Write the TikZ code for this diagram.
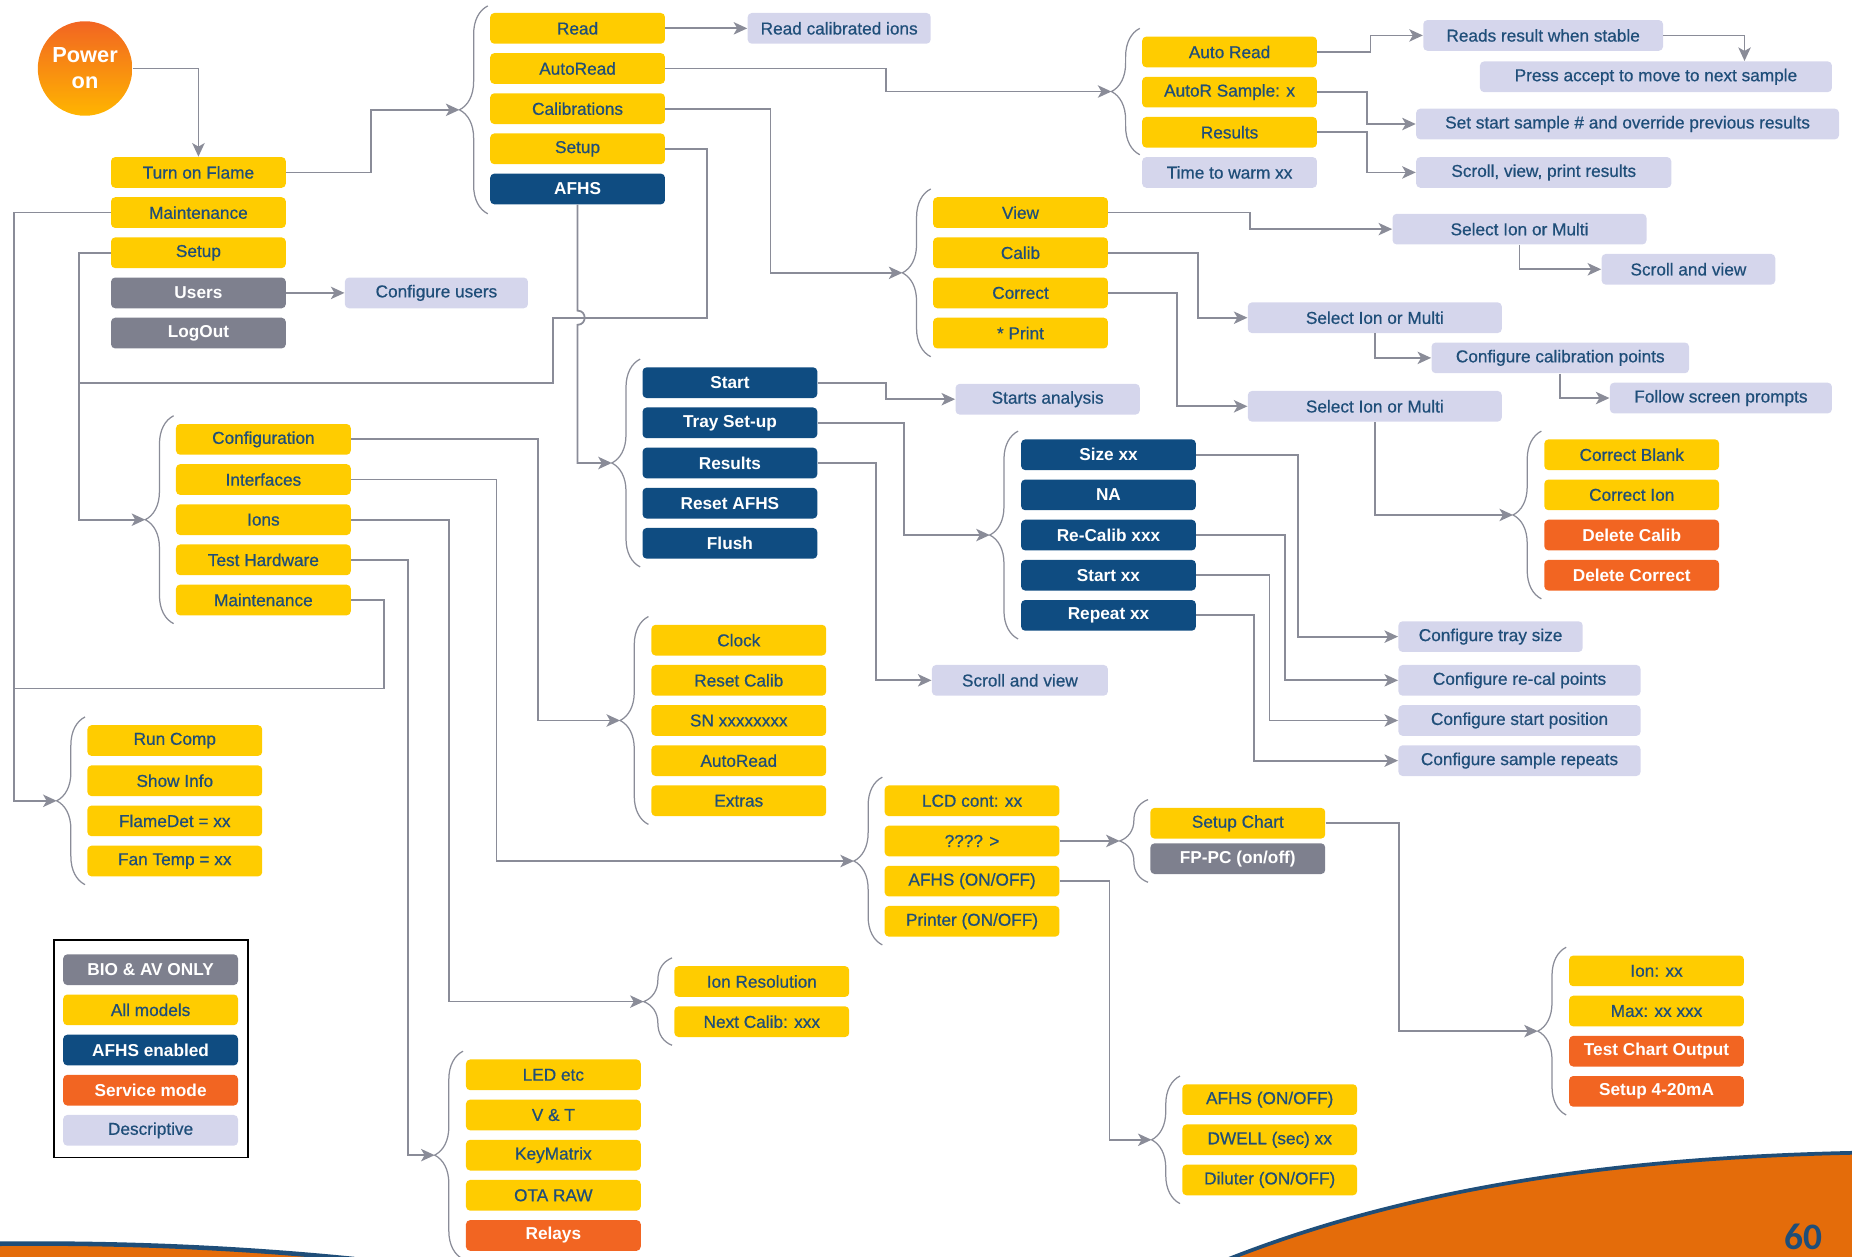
\documentclass[tikz,border=0pt]{standalone}
\usepackage{fontspec}
\setmainfont{Liberation Sans}
\newfontfamily\boxfam{Liberation Sans}[FakeBold=0.6]
\newfontfamily\pagenumfont{Carlito}
\usepackage{xcolor}
\usepackage{tikz}
\usetikzlibrary{arrows.meta,decorations.pathreplacing,calc}

\definecolor{ylw}{HTML}{FFCC00}
\definecolor{dblue}{HTML}{0F4C81}
\definecolor{orng}{HTML}{F26522}
\definecolor{gry}{HTML}{7E808E}
\definecolor{desc}{HTML}{D5D6EC}
\definecolor{txt}{HTML}{1F4E79}
\definecolor{lgray}{HTML}{8A8C98}
\definecolor{botor}{HTML}{E46C0A}
\definecolor{botbl}{HTML}{1F4E79}

\newcommand{\bxfont}{\boxfam\fontsize{8.3}{10}\selectfont}
\newcommand{\bxbold}{\fontsize{8.3}{10}\selectfont\bfseries}

\tikzset{
    bx/.style={rounded corners=0.7mm,minimum width=29.6mm,minimum height=5.2mm,inner sep=0pt,font=\bxfont},
    yb/.style={bx,fill=ylw,text=txt},
    ds/.style={bx,fill=desc,text=txt},
    db/.style={bx,fill=dblue,text=white,font=\bxbold},
    ob/.style={bx,fill=orng,text=white,font=\bxbold},
    gb/.style={bx,fill=gry,text=white,font=\bxbold},
    ln/.style={draw=lgray,line width=0.85pt},
    arr/.style={ln,-{Stealth[length=2.3mm,width=2.1mm,inset=0.6mm]}},
    brc/.style={draw=lgray,line width=0.6pt,decorate,decoration={brace,amplitude=4.8mm}}
}

\begin{document}
\begin{tikzpicture}[x=0.2mm,y=-0.2mm]
    \useasboundingbox (0,0) rectangle (1568,1064);

    % bottom corners
    \begin{scope}
    \clip (0,0) rectangle (1568,1064);
    \fill[botor] (0,1053) .. controls (100,1052) and (200,1056) .. (300,1066) -- (0,1066) -- cycle;
    \draw[botbl,line width=2.2pt] (0,1053) .. controls (100,1052) and (200,1056) .. (300,1066);
    \fill[botor] (1040,1066) .. controls (1200,1003) and (1380,980) .. (1570,976) -- (1570,1066) -- cycle;
    \draw[botbl,line width=1.8pt] (1040,1066) .. controls (1200,1003) and (1380,980) .. (1570,976);
    \end{scope}
    \node[anchor=base,inner sep=0pt,text=txt,font=\pagenumfont\fontsize{18}{19}\selectfont\bfseries] (pg) at (1527,1058) {60};

    \node[circle,minimum size=16mm,inner sep=0pt,top color=orng,bottom color=ylw!70!orange,text=white,align=center,font=\fontsize{10.5}{12.5}\selectfont\bfseries] (pwr) at (72,58) {Power\\on};

    \node[yb] (tof) at (168,146) {Turn on Flame};
    \node[yb] (mnt) at (168,180) {Maintenance};
    \node[yb] (stp) at (168,214) {Setup};
    \node[gb] (usr) at (168,248) {Users};
    \node[gb] (lgo) at (168,282) {LogOut};
    \node[ds,minimum width=31mm] (cfu) at (369.5,248) {Configure users};

    \node[yb] (rd) at (489,24) {Read};
    \node[yb] (ard) at (489,58) {AutoRead};
    \node[yb] (cal) at (489,92) {Calibrations};
    \node[yb] (tst) at (489,126) {Setup};
    \node[db] (afh) at (489,160) {AFHS};
    \node[ds,minimum width=31mm] (rci) at (710.5,24) {Read calibrated ions};

    \node[yb] (aur) at (1041,44) {Auto Read};
    \node[yb] (ars) at (1041,78) {AutoR Sample: x};
    \node[yb] (res) at (1041,112) {Results};
    \node[ds] (ttw) at (1041,146) {Time to warm xx};
    \node[ds,minimum width=40.6mm] (rrs) at (1306.5,30) {Reads result when stable};
    \node[ds,minimum width=59.6mm] (pam) at (1402,65) {Press accept to move to next sample};
    \node[ds,minimum width=71.6mm] (sss) at (1378,105) {Set start sample \# and override previous results};
    \node[ds,minimum width=43.2mm] (svp) at (1307,146) {Scroll, view, print results};

    \node[yb] (vw) at (864,180) {View};
    \node[yb] (clb) at (864,214) {Calib};
    \node[yb] (cor) at (864,248) {Correct};
    \node[yb] (prt) at (864,282) {* Print};
    \node[ds,minimum width=43mm] (sim1) at (1286.5,194) {Select Ion or Multi};
    \node[ds,minimum width=29.4mm] (sav1) at (1429.5,228) {Scroll and view};
    \node[ds,minimum width=43mm] (sim2) at (1164,269) {Select Ion or Multi};
    \node[ds,minimum width=43.6mm] (ccp) at (1321,303) {Configure calibration points};
    \node[ds,minimum width=37.6mm] (fsp) at (1457,337) {Follow screen prompts};
    \node[ds,minimum width=43mm] (sim3) at (1164,344) {Select Ion or Multi};

    \node[yb] (cbl) at (1381.5,385) {Correct Blank};
    \node[yb] (cio) at (1381.5,419) {Correct Ion};
    \node[ob] (dcl) at (1381.5,453) {Delete Calib};
    \node[ob] (dco) at (1381.5,487) {Delete Correct};

    \node[db] (ast) at (618,324) {Start};
    \node[db] (tsu) at (618,358) {Tray Set-up};
    \node[db] (ares) at (618,392) {Results};
    \node[db] (raf) at (618,426) {Reset AFHS};
    \node[db] (fls) at (618,460) {Flush};
    \node[ds,minimum width=31.2mm] (san) at (887,338) {Starts analysis};
    \node[ds,minimum width=29.8mm] (sav2) at (863.5,576) {Scroll and view};

    \node[db] (szx) at (938.5,385) {Size xx};
    \node[db] (na) at (938.5,419) {NA};
    \node[db] (rcx) at (938.5,453) {Re-Calib xxx};
    \node[db] (stx) at (938.5,487) {Start xx};
    \node[db] (rpx) at (938.5,521) {Repeat xx};
    \node[ds,minimum width=31.2mm] (cts) at (1262,539) {Configure tray size};
    \node[ds,minimum width=41mm] (crp) at (1286.5,576) {Configure re-cal points};
    \node[ds,minimum width=41mm] (csp) at (1286.5,610) {Configure start position};
    \node[ds,minimum width=41mm] (csr) at (1286.5,644) {Configure sample repeats};

    \node[yb] (cfg) at (223,372) {Configuration};
    \node[yb] (itf) at (223,406) {Interfaces};
    \node[yb] (ion) at (223,440) {Ions};
    \node[yb] (thw) at (223,474) {Test Hardware};
    \node[yb] (mnt2) at (223,508) {Maintenance};

    \node[yb] (rcp) at (148,627) {Run Comp};
    \node[yb] (sif) at (148,661) {Show Info};
    \node[yb] (fdt) at (148,695) {FlameDet = xx};
    \node[yb] (ftp) at (148,729) {Fan Temp = xx};

    \node[yb] (clk) at (625.5,542) {Clock};
    \node[yb] (rcl) at (625.5,576) {Reset Calib};
    \node[yb] (snx) at (625.5,610) {SN xxxxxxxx};
    \node[yb] (ard2) at (625.5,644) {AutoRead};
    \node[yb] (ext) at (625.5,678) {Extras};

    \node[yb] (lcd) at (823,678) {LCD cont: xx};
    \node[yb] (qqq) at (823,712) {???? >};
    \node[yb] (afo) at (823,746) {AFHS (ON/OFF)};
    \node[yb] (pro) at (823,780) {Printer (ON/OFF)};

    \node[yb] (sch) at (1048,697) {Setup Chart};
    \node[gb] (fpc) at (1048,727) {FP-PC (on/off)};

    \node[yb] (ixx) at (1402.5,822) {Ion: xx};
    \node[yb] (mxx) at (1402.5,856) {Max: xx xxx};
    \node[ob] (tco) at (1402.5,890) {Test Chart Output};
    \node[ob] (s420) at (1402.5,924) {Setup 4-20mA};

    \node[yb] (afo2) at (1075,931) {AFHS (ON/OFF)};
    \node[yb] (dwl) at (1075,965) {DWELL (sec) xx};
    \node[yb] (dil) at (1075,999) {Diluter (ON/OFF)};

    \node[yb] (irs) at (645,831) {Ion Resolution};
    \node[yb] (ncb) at (645,865) {Next Calib: xxx};

    \node[yb] (led) at (468.5,910) {LED etc};
    \node[yb] (vt) at (468.5,944) {V \& T};
    \node[yb] (kmx) at (468.5,978) {KeyMatrix};
    \node[yb] (ota) at (468.5,1012) {OTA RAW};
    \node[ob] (rly) at (468.5,1046) {Relays};

    % legend
    \draw[black,line width=0.9pt] (46,796) rectangle (210,980);
    \node[gb] (lg1) at (127.5,821) {BIO \& AV ONLY};
    \node[yb] (lg2) at (127.5,855) {All models};
    \node[db] (lg3) at (127.5,889) {AFHS enabled};
    \node[ob] (lg4) at (127.5,923) {Service mode};
    \node[ds] (lg5) at (127.5,957) {Descriptive};

    % braces
    \draw[brc] (413,181) -- (413,5);
    \coordinate (bTop) at (389,93);
    \draw[brc] (965,131) -- (965,24);
    \coordinate (bAuto) at (941,77.5);
    \draw[brc] (788,302) -- (788,160);
    \coordinate (bView) at (764,231);
    \draw[brc] (1305,507) -- (1305,365);
    \coordinate (bCor) at (1281,436);
    \draw[brc] (542,480) -- (542,304);
    \coordinate (bAfhs) at (518,392);
    \draw[brc] (862,541) -- (862,365);
    \coordinate (bSize) at (838,453);
    \draw[brc] (147,528) -- (147,352);
    \coordinate (bCfg) at (123,440);
    \draw[brc] (72,749) -- (72,607);
    \coordinate (bMnt) at (48,678);
    \draw[brc] (549,698) -- (549,522);
    \coordinate (bClk) at (525,610);
    \draw[brc] (747,800) -- (747,658);
    \coordinate (bLcd) at (723,729);
    \draw[brc] (972,747) -- (972,677);
    \coordinate (bChart) at (948,712);
    \draw[brc] (1326,944) -- (1326,802);
    \coordinate (bIon) at (1302,873);
    \draw[brc] (999,1019) -- (999,911);
    \coordinate (bAf2) at (975,965);
    \draw[brc] (569,885) -- (569,811);
    \coordinate (bIres) at (545,848);
    \draw[brc] (392,1066) -- (392,890);
    \coordinate (bLed) at (368,978);

    % connectors
    \draw[arr] (pwr.east) -| (tof.north);
    \draw[arr] (tof.east) -- ++(72,0) |- (bTop);
    \draw[arr] (usr) to (cfu);
    \draw[arr] (rd) to (rci);
    \draw[arr] (ard.east) -- ++(187,0) |- (bAuto);
    \draw[arr] (aur.east) -- ++(45,0) |- (rrs.west);
    \draw[arr] (rrs.east) -| ($(pam.north)+(75,0)$);
    \draw[arr] (ars.east) -- ++(42,0) |- (sss.west);
    \draw[arr] (res.east) -- ++(42,0) |- (svp.west);
    \draw[arr] (cal.east) -- ++(89,0) |- (bView);
    \draw[arr] (vw.east) -- ++(120,0) |- (sim1.west);
    \draw[arr] (sim1.south) |- (sav1.west);
    \draw[arr] (clb.east) -- ++(76,0) |- (sim2.west);
    \draw[arr] (sim2.south) |- (ccp.west);
    \draw[arr] (ccp.south) |- (fsp.west);
    \draw[arr] (cor.east) -- ++(58,0) |- (sim3.west);
    \draw[arr] (sim3.south) |- (bCor);
    \draw[ln] (tst.east) -- ++(35,0) |- (468,269) |- (67,324);
    \draw[arr] (stp.west) -- ++(-27,0) |- (bCfg);
    \draw[arr] (afh.south) -- (489,263) .. controls (497,263) and (497,275) .. (489,275) |- (bAfhs);
    \draw[arr] (ast.east) -- ++(58,0) |- (san.west);
    \draw[arr] (tsu.east) -- ++(73,0) |- (bSize);
    \draw[arr] (ares.east) -- ++(49,0) |- (sav2.west);
    \draw[arr] (szx.east) -- ++(86,0) |- (cts.west);
    \draw[arr] (rcx.east) -- ++(75,0) |- (crp.west);
    \draw[arr] (stx.east) -- ++(62,0) |- (csp.west);
    \draw[arr] (rpx.east) -- ++(49,0) |- (csr.west);
    \draw[arr] (mnt.west) -- ++(-82,0) |- (bMnt);
    \draw[ln] (mnt2.east) -- ++(28,0) |- (12,583);
    \draw[arr] (cfg.east) -- ++(158,0) |- (bClk);
    \draw[arr] (itf.east) -- ++(123,0) |- (bLcd);
    \draw[arr] (ion.east) -- ++(83,0) |- (bIres);
    \draw[arr] (thw.east) -- ++(48,0) |- (bLed);
    \draw[arr] (qqq.east) -- (bChart);
    \draw[arr] (sch.east) -- ++(62,0) |- (bIon);
    \draw[arr] (afo.east) -- ++(42,0) |- (bAf2);
\end{tikzpicture}
\end{document}
